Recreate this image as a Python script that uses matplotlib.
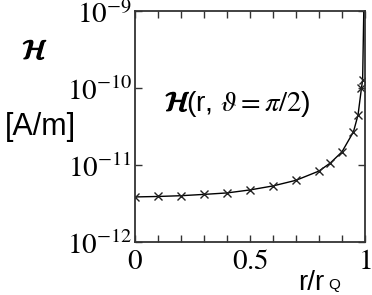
import numpy as np
import matplotlib.pyplot as plt
import matplotlib.patheffects as pe
import matplotlib.transforms as mtransforms

plt.rcParams['mathtext.fontset'] = 'stix'
plt.rcParams['font.family'] = ['Liberation Sans', 'DejaVu Sans']

# values (log10 of H in A/m)
r_pts = [0.0, 0.1, 0.2, 0.3, 0.4, 0.5, 0.6, 0.7, 0.8, 0.85, 0.9, 0.95, 0.97, 0.985, 0.99]
logH_pts = [-11.416, -11.41, -11.40, -11.383, -11.364, -11.325, -11.273, -11.20,
            -11.08, -10.974, -10.831, -10.571, -10.351, -10.0, -9.896]
# line keeps going up to the top of the box
r_end = [0.995]
logH_end = [-9.0]

H_pts = 10.0 ** np.array(logH_pts)
r_line = r_pts + r_end
H_line = 10.0 ** np.array(logH_pts + logH_end)

fig = plt.figure(figsize=(3.72, 2.95), dpi=100)
ax = fig.add_axes([0.363, 0.180, 0.618, 0.783])

ax.plot(r_line, H_line, color='black', lw=1.0)
ax.plot(r_pts, H_pts, ls='none', marker='x', ms=6, mew=1.0, color='#222222')

ax.set_yscale('log')
ax.set_xlim(0, 1)
ax.set_ylim(1e-12, 1e-9)
ax.set_yticks([1e-12, 1e-11, 1e-10, 1e-9])
ax.set_yticklabels([r'$10^{-12}$', r'$10^{-11}$', r'$10^{-10}$', r'$10^{-9}$'])
ax.yaxis.set_minor_locator(plt.NullLocator())
ax.set_xticks([0, 0.5, 1])
ax.set_xticklabels([r'$0$', r'$0.5$', r'$1$'])
ax.set_xticks(np.arange(0.1, 1.0, 0.1), minor=True)

ax.tick_params(which='both', direction='in', top=True, right=True,
               length=5, width=1.0, color='#333333', labelsize=21, pad=4)
ax.tick_params(axis='y', pad=2)
for s in ax.spines.values():
    s.set_linewidth(1.3)
    s.set_color('#333333')

# y labels sit a little below their ticks in the reference
shift = mtransforms.ScaledTranslation(0, -4 / 100, fig.dpi_scale_trans)
for lab in ax.get_yticklabels():
    lab.set_verticalalignment('center')
    lab.set_transform(lab.get_transform() + shift)

# inside label
W, Hh = 372.0, 295.0
t = fig.text(165 / W, 1 - 104 / Hh, r'$\mathcal{H}$', fontsize=20, va='center', ha='left')
t.set_path_effects([pe.withStroke(linewidth=0.9, foreground='black')])
fig.text(186 / W, 1 - 104 / Hh, r'(r, $\vartheta=\pi/2$)', fontsize=20.5,
         va='center', ha='left')

# axis labels
t2 = fig.text(35 / W, 1 - 52 / Hh, r'$\mathcal{H}$', fontsize=20, va='center', ha='center')
t2.set_path_effects([pe.withStroke(linewidth=0.9, foreground='black')])
fig.text(40 / W, 1 - 127 / Hh, '[A/m]', fontsize=22, va='center', ha='center')
fig.text(298 / W, 1 - 283 / Hh, 'r/r', fontsize=20, va='center', ha='left')
fig.text(328 / W, 3 / Hh, 'Q', fontsize=11, va='bottom', ha='left')

fig.savefig('out.png', dpi=100)
